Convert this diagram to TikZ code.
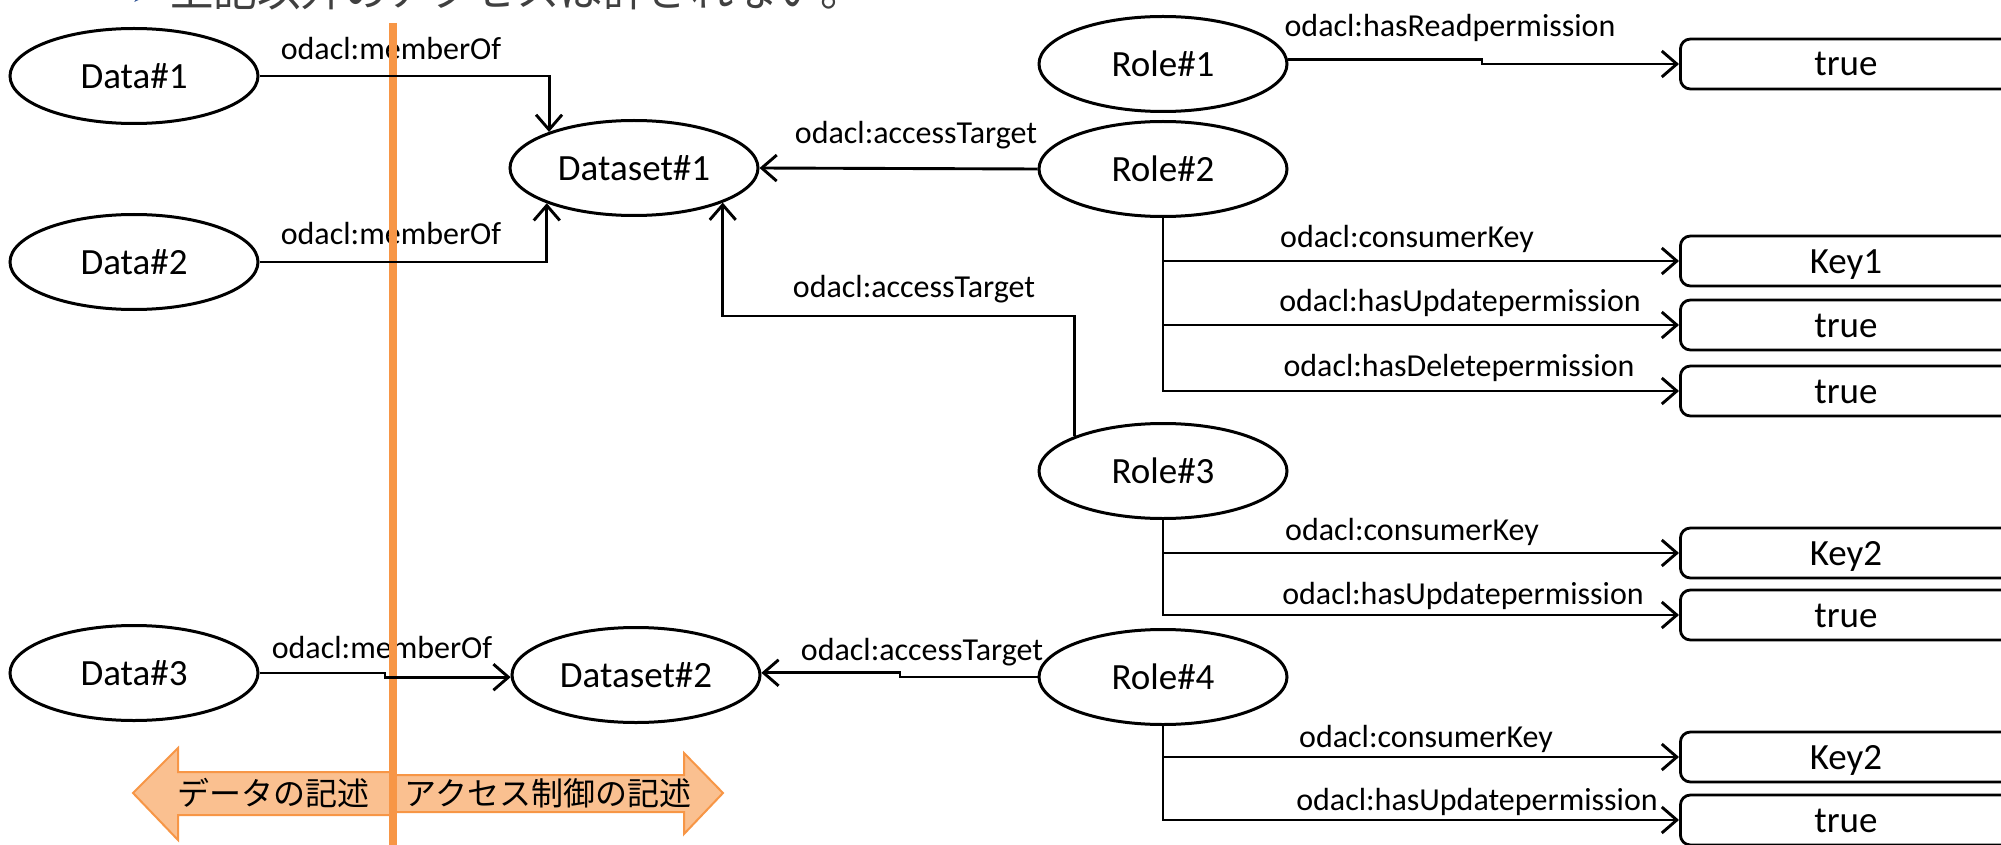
\documentclass[tikz,border=0pt]{standalone}
\usepackage{fontspec}
\setmainfont{Carlito}
\newfontfamily\jpfont{Noto Sans CJK JP}
\newfontfamily\symfont{DejaVu Sans}
\usetikzlibrary{shapes.geometric,arrows.meta,calc}
\definecolor{accent}{HTML}{F79646}
\definecolor{accentfill}{HTML}{FAC090}
\definecolor{titlegray}{HTML}{404040}
\definecolor{bulletblue}{HTML}{2F5496}

\begin{document}
\begin{tikzpicture}[x=0.5pt,y=-0.5pt,
  res/.style={ellipse,draw,line width=1.5pt,minimum width=124pt,minimum height=47.5pt,
              inner sep=0pt,font=\fontsize{18.5}{22}\selectfont},
  lit/.style={rectangle,draw,rounded corners=5pt,line width=1.4pt,minimum width=165.5pt,
              minimum height=25pt,anchor=west,inner sep=0pt,text height=12pt,text depth=0pt,
              font=\fontsize{18.5}{22}\selectfont},
  conn/.style={line width=1.45pt,-{Straight Barb[length=7.5pt,width=13pt]}},
  prop/.style={anchor=base,inner sep=0pt,font=\fontsize{16}{19}\selectfont},
  band/.style={draw=accent,fill=accentfill,line width=1pt,line join=miter},
  bandtext/.style={inner sep=0pt,font=\jpfont\fontsize{16}{19}\selectfont},
]
\useasboundingbox (0,0) rectangle (2001,845);

% heading line, mostly above the frame
\node[anchor=base west,inner sep=0pt,text=bulletblue,font=\symfont\fontsize{13}{15}\selectfont]
  (bullet) at (131,3) {➤};
\node[anchor=base west,inner sep=0pt,text=titlegray,font=\jpfont\fontsize{21.75}{26}\selectfont]
  (title) at (170,7) {上記以外のアクセスは許されない。};

% scope arrows at the bottom
\draw[band] (133,793) -- (178,748) -- (178,772) -- (393,772) -- (393,815)
            -- (178,815) -- (178,840) -- cycle;
\draw[band] (723,793) -- (684,753) -- (684,775) -- (393,775) -- (393,812)
            -- (684,812) -- (684,834) -- cycle;
\node[bandtext] (lbldata) at (273,793) {データの記述};
\node[bandtext] (lblacl) at (548,793) {アクセス制御の記述};

% resources
\node[res] (d1) at (134,76) {Data\#1};
\node[res] (d2) at (134,262) {Data\#2};
\node[res] (d3) at (134,673) {Data\#3};
\node[res] (ds1) at (634,168) {Dataset\#1};
\node[res] (ds2) at (636,675) {Dataset\#2};
\node[res] (r1) at (1163,64) {Role\#1};
\node[res] (r2) at (1163,169) {Role\#2};
\node[res] (r3) at (1163,471) {Role\#3};
\node[res] (r4) at (1163,677) {Role\#4};

% literal values
\node[lit] (t1) at (1679,64) {true};
\node[lit] (k1) at (1679,261) {Key1};
\node[lit] (t2) at (1679,325) {true};
\node[lit] (t3) at (1679,391) {true};
\node[lit] (k2) at (1679,553) {Key2};
\node[lit] (t4) at (1679,615) {true};
\node[lit] (k3) at (1679,757) {Key2};
\node[lit] (t5) at (1679,820) {true};

% property labels
\node[prop] (pm1) at (391,60) {odacl:memberOf};
\node[prop] (pm2) at (391,244) {odacl:memberOf};
\node[prop] (pm3) at (382,658) {odacl:memberOf};
\node[prop] (pa1) at (916,144) {odacl:accessTarget};
\node[prop] (pa2) at (914,297) {odacl:accessTarget};
\node[prop] (pa3) at (922,660) {odacl:accessTarget};
\node[prop] (pr1) at (1450,37) {odacl:hasReadpermission};
\node[prop] (pc2) at (1407,248) {odacl:consumerKey};
\node[prop] (pu2) at (1460,311) {odacl:hasUpdatepermission};
\node[prop] (pd2) at (1459,376) {odacl:hasDeletepermission};
\node[prop] (pc3) at (1412,540) {odacl:consumerKey};
\node[prop] (pu3) at (1463,604) {odacl:hasUpdatepermission};
\node[prop] (pc4) at (1426,747) {odacl:consumerKey};
\node[prop] (pu4) at (1477,810) {odacl:hasUpdatepermission};

% boundary between data and access-control descriptions
\coordinate (sepTop) at (393,23);
\coordinate (sepBot) at (393,850);
\draw[accent,line width=4pt] (sepTop) -- (sepBot);

% bend points
\coordinate (jr1) at (1482,0);
\coordinate (jr3) at (0,316);
\coordinate (jd3) at (385,0);
\coordinate (jr4) at (900,0);

% connectors
\draw[conn] (d1.east) -| (ds1.157.6);
\draw[conn] (d2.east) -| (ds1.202.4);
\draw[conn] (d3.east) -- (d3.east -| jd3) |- (ds2.181);
\draw[conn] (r2.west) -- (ds1.east);
\draw[conn] (r3.north west) |- (ds1.south east |- jr3) -- (ds1.south east);
\draw[conn] (r4.west) -- (r4.west -| jr4) |- (ds2.1);
\draw[conn] (r1.2) -- (r1.2 -| jr1) |- (t1.west);
\draw[conn] (r2.south) |- (k1.west);
\draw[conn] (r2.south) |- (t2.west);
\draw[conn] (r2.south) |- (t3.west);
\draw[conn] (r3.south) |- (k2.west);
\draw[conn] (r3.south) |- (t4.west);
\draw[conn] (r4.south) |- (k3.west);
\draw[conn] (r4.south) |- (t5.west);
\end{tikzpicture}
\end{document}
